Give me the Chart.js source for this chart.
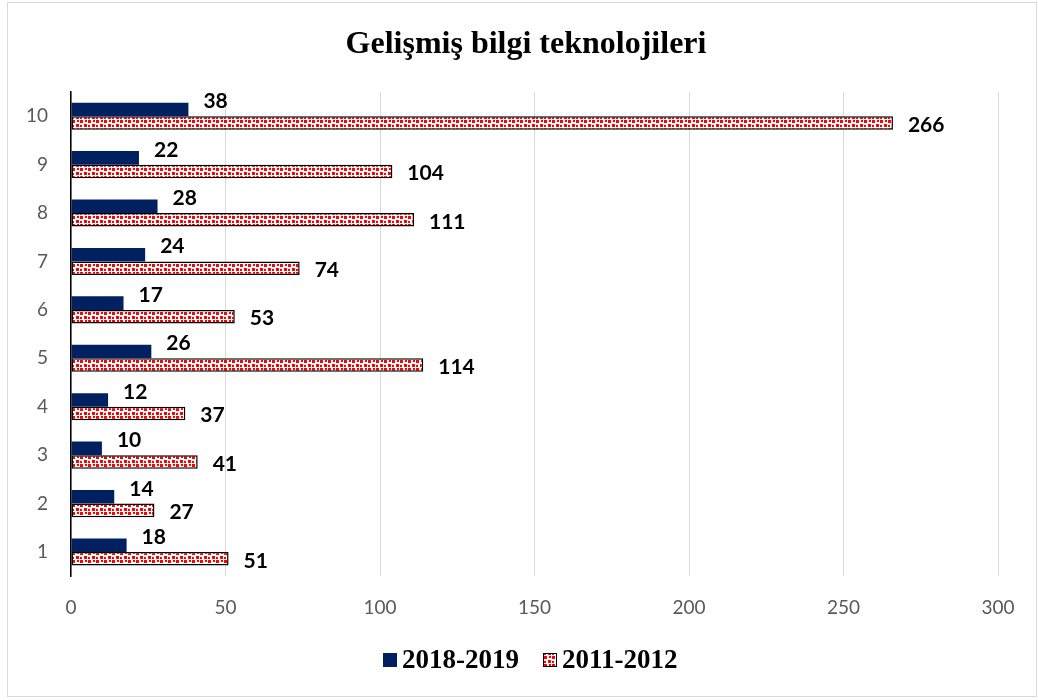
<!DOCTYPE html>
<html>
<head>
<meta charset="utf-8">
<script src="https://cdn.jsdelivr.net/npm/chart.js@4.4.1/dist/chart.umd.min.js"></script>
<style>
  html, body { margin: 0; padding: 0; background: #fff; }
  #wrap { position: relative; width: 1038px; height: 700px; }
  #frame { position: absolute; left: 7px; top: 2px; width: 1030px; height: 695px; border: 1px solid #d9d9d9; box-sizing: border-box; pointer-events: none; }
  canvas { position: absolute; left: 0; top: 0; }
</style>
</head>
<body>
<div id="wrap">
  <canvas id="chart" width="1038" height="700"></canvas>
  <div id="frame"></div>
</div>
<script>
// ── Data ────────────────────────────────────────────────────
const categories = ['1','2','3','4','5','6','7','8','9','10'];
const series2018 = [18, 14, 10, 12, 26, 17, 24, 28, 22, 38];
const series2011 = [51, 27, 41, 37, 114, 53, 74, 111, 104, 266];
const xTicks = [0, 50, 100, 150, 200, 250, 300];
const titleText = 'Gelişmiş bilgi teknolojileri';

// ── Pattern fill for 2011-2012 ──────────────────────────────
function makePattern() {
  const c = document.createElement('canvas');
  c.width = 8; c.height = 8;
  const g = c.getContext('2d');
  g.fillStyle = '#fff'; g.fillRect(0, 0, 8, 8);
  g.fillStyle = '#ff0000';
  g.fillRect(0, 0, 3, 3);
  g.fillRect(4, 4, 3, 3);
  g.fillRect(5, 0, 2, 2);
  g.fillRect(0, 5, 2, 2);
  return document.getElementById('chart').getContext('2d').createPattern(c, 'repeat');
}
const redPattern = makePattern();

// ── Value labels ────────────────────────────────────────────
const valueLabels = {
  id: 'valueLabels',
  afterDatasetsDraw(chart) {
    const ctx = chart.ctx;
    ctx.save();
    ctx.font = 'bold 21px Lato';
    ctx.fillStyle = '#000';
    ctx.textAlign = 'left';
    ctx.textBaseline = 'middle';
    chart.data.datasets.forEach((ds, di) => {
      chart.getDatasetMeta(di).data.forEach((bar, i) => {
        const dy = di === 0 ? -8 : 2;
        ctx.fillText(ds.data[i], bar.x + 15, bar.y + dy);
      });
    });
    ctx.restore();
  }
};

// ── Title + legend (drawn by hand to place them like the original) ──
const headerFooter = {
  id: 'headerFooter',
  afterDraw(chart) {
    const ctx = chart.ctx;
    ctx.save();
    ctx.fillStyle = '#000';
    ctx.textBaseline = 'middle';
    ctx.textAlign = 'center';
    ctx.font = 'bold 32px "Liberation Serif"';
    ctx.fillText(titleText, 526, 45);

    ctx.font = 'bold 27px "Liberation Serif"';
    ctx.textAlign = 'left';
    const ds = chart.data.datasets;
    let x = 383;
    const y = 660;
    ds.forEach((d, i) => {
      ctx.fillStyle = d.backgroundColor;
      ctx.fillRect(x, y - 7, 14, 14);
      if (d.borderWidth) {
        ctx.strokeStyle = '#000'; ctx.lineWidth = 1;
        ctx.strokeRect(x + 0.5, y - 6.5, 13, 13);
      }
      ctx.fillStyle = '#000';
      ctx.fillText(d.label, x + 19, y + 1);
      x += 19 + ctx.measureText(d.label).width + 24;
    });
    ctx.restore();
  }
};

new Chart(document.getElementById('chart'), {
  type: 'bar',
  data: {
    labels: categories,
    datasets: [
      { label: '2018-2019', data: series2018, backgroundColor: '#002060', borderWidth: 0,
        categoryPercentage: 0.56, barPercentage: 1 },
      { label: '2011-2012', data: series2011, backgroundColor: redPattern, borderColor: '#000', borderWidth: 1.5,
        borderSkipped: false, categoryPercentage: 0.56, barPercentage: 1 }
    ]
  },
  options: {
    indexAxis: 'y',
    responsive: false,
    animation: false,
    layout: { padding: { left: 0, right: 40, top: 92, bottom: 61 } },
    plugins: {
      title: { display: false },
      legend: { display: false },
      tooltip: { enabled: false }
    },
    scales: {
      x: { min: 0, max: 300,
        afterBuildTicks: s => { s.ticks = xTicks.map(v => ({ value: v })); },
        grid: { color: '#d9d9d9', drawTicks: false },
        border: { display: false },
        ticks: { padding: 20, color: '#595959', font: { family: 'Lato', size: 19 } } },
      y: { reverse: true,
        afterFit: s => { s.width = 71; },
        grid: { display: false, drawTicks: false },
        border: { display: true, color: '#000', width: 1.5 },
        ticks: { padding: 23, color: '#595959', font: { family: 'Lato', size: 19 } } }
    }
  },
  plugins: [valueLabels, headerFooter]
});
</script>
</body>
</html>
